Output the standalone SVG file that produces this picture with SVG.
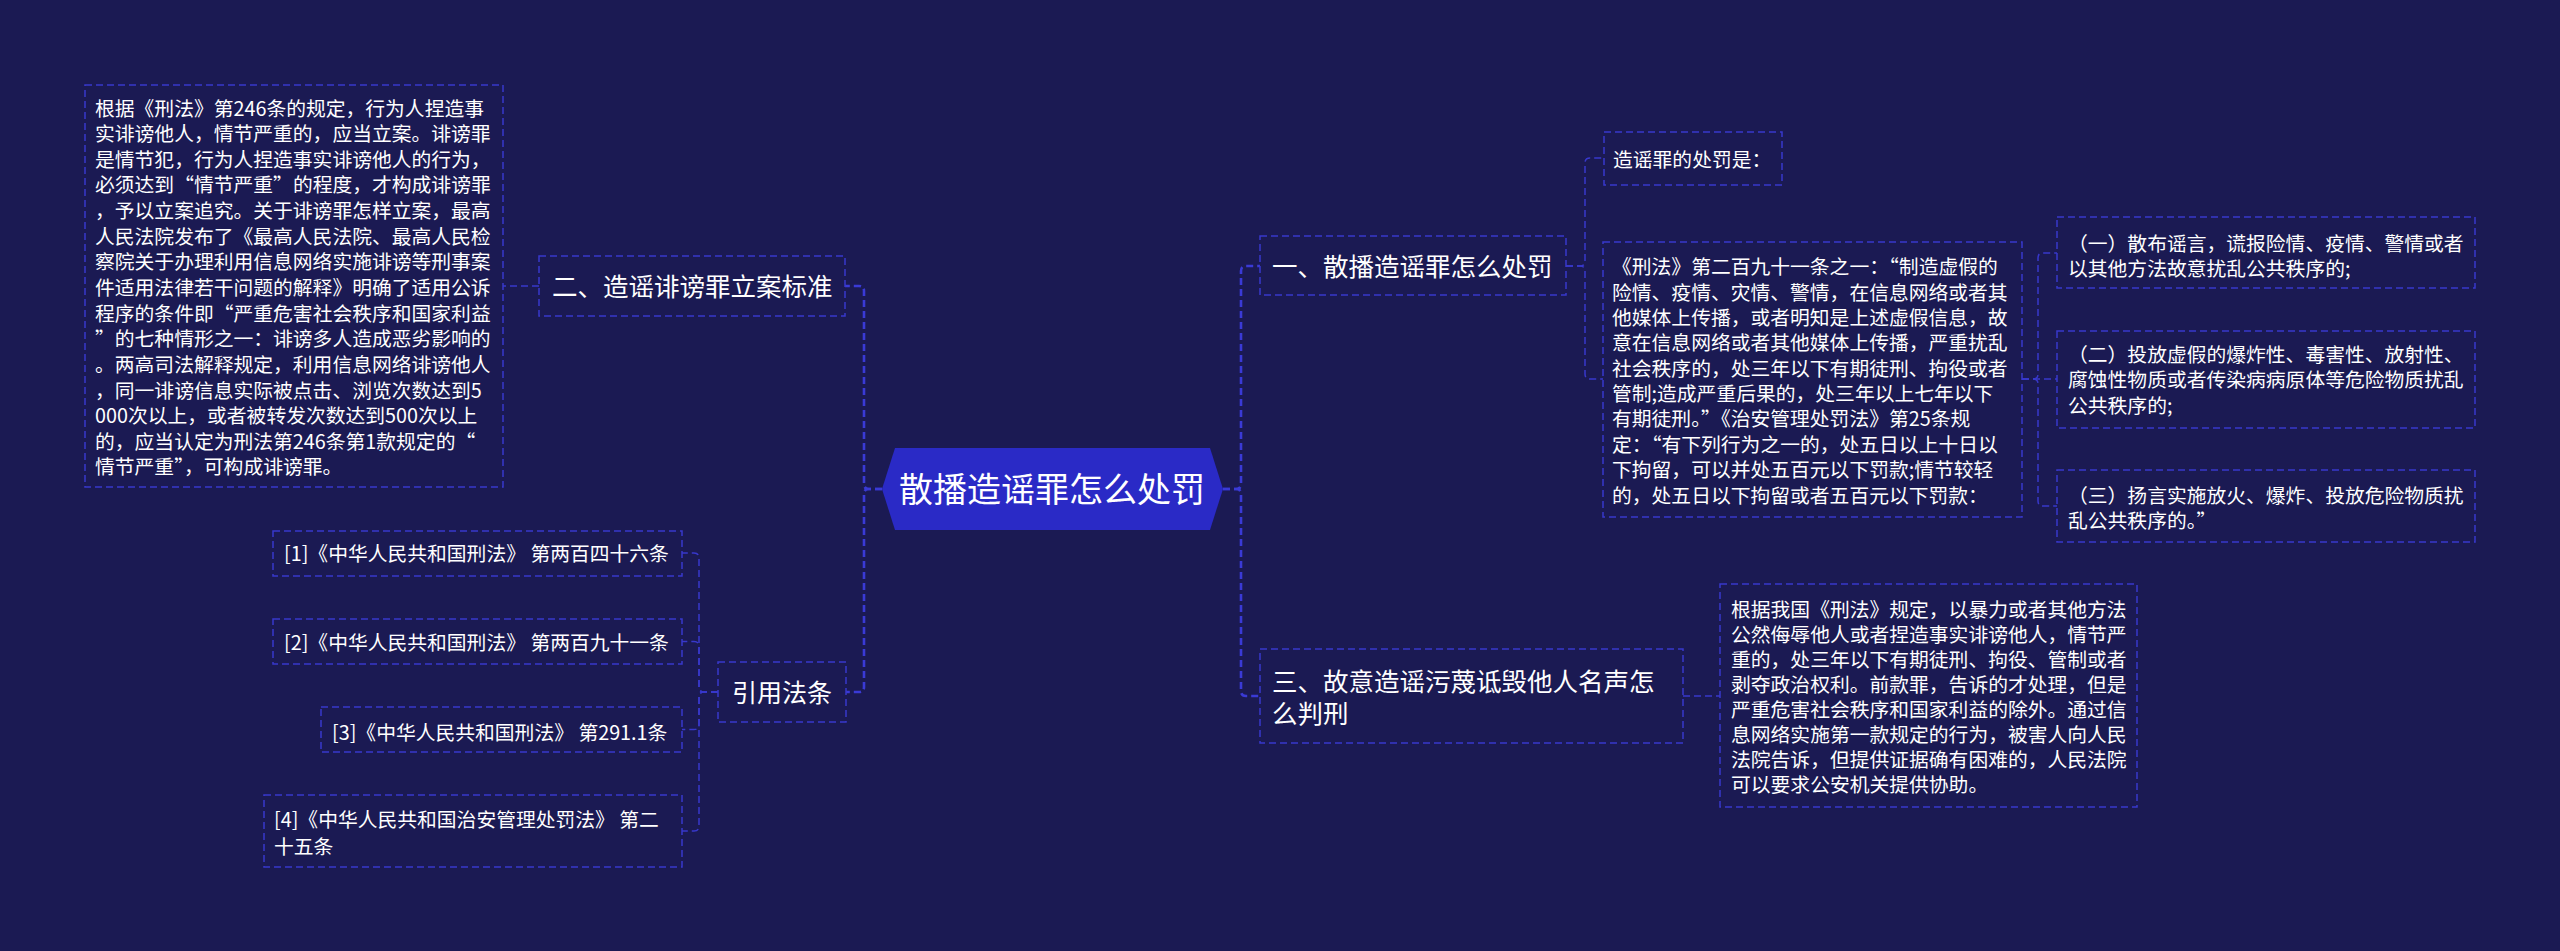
<svg xmlns="http://www.w3.org/2000/svg" width="2560" height="951" viewBox="0 0 2560 951">
<style>
.box{fill:#1b1a53;stroke:#3838cc;stroke-width:1.5;stroke-dasharray:7 4}
.conn{fill:none;stroke:#3838cc;stroke-width:1.5;stroke-dasharray:7 4}
.main{stroke-width:2.6;stroke:#3a3ad6}
.t{font-family:"Noto Sans CJK SC","Noto Sans",sans-serif;fill:#ffffff;font-size:19.8px}
.h{font-family:"Noto Sans CJK SC","Noto Sans",sans-serif;fill:#ffffff;font-size:25.5px}
.q{font-feature-settings:"fwid" 1}
</style>
<rect width="2560" height="951" fill="#1b1a53"/>
<g id="connectors">
<path class="conn main" d="M882 489 H869 Q864 489 864 484 V291 Q864 286 859 286 H845"/>
<path class="conn main" d="M882 489 H869 Q864 489 864 494 V687 Q864 692 859 692 H846"/>
<path class="conn" d="M539 286 H503"/>
<path class="conn" d="M718 692 H704 Q699 692 699 687 V558 Q699 553 694 553 H682"/>
<path class="conn" d="M718 692 H704 Q699 692 699 687 V646.5 Q699 641.5 694 641.5 H682"/>
<path class="conn" d="M718 692 H704 Q699 692 699 697 V724.5 Q699 729.5 694 729.5 H682"/>
<path class="conn" d="M718 692 H704 Q699 692 699 697 V826 Q699 831 694 831 H682"/>
<path class="conn main" d="M1223 489 H1236 Q1241 489 1241 484 V271 Q1241 266 1246 266 H1260"/>
<path class="conn main" d="M1223 489 H1236 Q1241 489 1241 494 V691 Q1241 696 1246 696 H1260"/>
<path class="conn" d="M1566 266 H1580 Q1585 266 1585 261 V163 Q1585 158 1590 158 H1604"/>
<path class="conn" d="M1566 266 H1580 Q1585 266 1585 271 V374 Q1585 379 1590 379 H1603"/>
<path class="conn" d="M2022 379 H2033 Q2038 379 2038 374 V258 Q2038 253 2043 253 H2057"/>
<path class="conn" d="M2022 379 H2057"/>
<path class="conn" d="M2022 379 H2033 Q2038 379 2038 384 V501 Q2038 506 2043 506 H2057"/>
<path class="conn" d="M1683 696 H1720"/>
</g>
<g id="root">
<polygon points="882,489 895,448 1210,448 1223,489 1210,530 895,530" fill="#2a2ac6"/>
<text class="h" x="1052" y="502" text-anchor="middle" style="font-size:34px">散播造谣罪怎么处罚</text>
</g>
<g id="n-left-text">
<rect class="box" x="85" y="85" width="418" height="402"/>
<text class="t" x="95" y="115.5"><tspan x="95">根据《刑法》第246条的规定，行为人捏造事</tspan><tspan x="95" dy="25.64">实诽谤他人，情节严重的，应当立案。诽谤罪</tspan><tspan x="95" dy="25.64">是情节犯，行为人捏造事实诽谤他人的行为，</tspan><tspan x="95" dy="25.64">必须达到<tspan class="q">“</tspan>情节严重<tspan class="q">”</tspan>的程度，才构成诽谤罪</tspan><tspan x="95" dy="25.64">，予以立案追究。关于诽谤罪怎样立案，最高</tspan><tspan x="95" dy="25.64">人民法院发布了《最高人民法院、最高人民检</tspan><tspan x="95" dy="25.64">察院关于办理利用信息网络实施诽谤等刑事案</tspan><tspan x="95" dy="25.64">件适用法律若干问题的解释》明确了适用公诉</tspan><tspan x="95" dy="25.64">程序的条件即<tspan class="q">“</tspan>严重危害社会秩序和国家利益</tspan><tspan x="95" dy="25.64"><tspan class="q">”</tspan>的七种情形之一：诽谤多人造成恶劣影响的</tspan><tspan x="95" dy="25.64">。两高司法解释规定，利用信息网络诽谤他人</tspan><tspan x="95" dy="25.64">，同一诽谤信息实际被点击、浏览次数达到5</tspan><tspan x="95" dy="25.64">000次以上，或者被转发次数达到500次以上</tspan><tspan x="95" dy="25.64">的，应当认定为刑法第246条第1款规定的<tspan class="q">“</tspan></tspan><tspan x="95" dy="25.64">情节严重<tspan class="q">”</tspan>，可构成诽谤罪。</tspan></text>
</g>
<g id="n-er">
<rect class="box" x="539" y="256" width="306" height="60"/>
<text class="h" x="552" y="296">二、造谣诽谤罪立案标准</text>
</g>
<g id="n-ref1">
<rect class="box" x="273" y="531" width="409" height="45"/>
<text class="t" x="284" y="561">[1]《中华人民共和国刑法》 第两百四十六条</text>
</g>
<g id="n-ref2">
<rect class="box" x="273" y="619" width="409" height="45"/>
<text class="t" x="284" y="650">[2]《中华人民共和国刑法》 第两百九十一条</text>
</g>
<g id="n-ref3">
<rect class="box" x="321" y="707" width="361" height="45"/>
<text class="t" x="332" y="739.5">[3]《中华人民共和国刑法》 第291.1条</text>
</g>
<g id="n-ref4">
<rect class="box" x="264" y="795" width="418" height="72"/>
<text class="t" x="274" y="827"><tspan x="274">[4]《中华人民共和国治安管理处罚法》 第二</tspan><tspan x="274" dy="26.5">十五条</tspan></text>
</g>
<g id="n-yinyong">
<rect class="box" x="718" y="662" width="128" height="60"/>
<text class="h" x="732" y="702" style="font-size:25px">引用法条</text>
</g>
<g id="n-yi">
<rect class="box" x="1260" y="236" width="306" height="59"/>
<text class="h" x="1272" y="276">一、散播造谣罪怎么处罚</text>
</g>
<g id="n-chufa">
<rect class="box" x="1604" y="132" width="178" height="53"/>
<text class="t" x="1613" y="167">造谣罪的处罚是：</text>
</g>
<g id="n-xingfa">
<rect class="box" x="1603" y="242" width="419" height="275"/>
<text class="t" x="1612" y="274.2"><tspan x="1612">《刑法》第二百九十一条之一：<tspan class="q">“</tspan>制造虚假的</tspan><tspan x="1612" dy="25.37">险情、疫情、灾情、警情，在信息网络或者其</tspan><tspan x="1612" dy="25.37">他媒体上传播，或者明知是上述虚假信息，故</tspan><tspan x="1612" dy="25.37">意在信息网络或者其他媒体上传播，严重扰乱</tspan><tspan x="1612" dy="25.37">社会秩序的，处三年以下有期徒刑、拘役或者</tspan><tspan x="1612" dy="25.37">管制;造成严重后果的，处三年以上七年以下</tspan><tspan x="1612" dy="25.37">有期徒刑。<tspan class="q">”</tspan>《治安管理处罚法》第25条规</tspan><tspan x="1612" dy="25.37">定：<tspan class="q">“</tspan>有下列行为之一的，处五日以上十日以</tspan><tspan x="1612" dy="25.37">下拘留，可以并处五百元以下罚款;情节较轻</tspan><tspan x="1612" dy="25.37">的，处五日以下拘留或者五百元以下罚款：</tspan></text>
</g>
<g id="n-item1">
<rect class="box" x="2057" y="217" width="418" height="71"/>
<text class="t" x="2068" y="250.5"><tspan x="2068">（一）散布谣言，谎报险情、疫情、警情或者</tspan><tspan x="2068" dy="25">以其他方法故意扰乱公共秩序的;</tspan></text>
</g>
<g id="n-item2">
<rect class="box" x="2057" y="331" width="418" height="97"/>
<text class="t" x="2068" y="361.5"><tspan x="2068">（二）投放虚假的爆炸性、毒害性、放射性、</tspan><tspan x="2068" dy="25.5">腐蚀性物质或者传染病病原体等危险物质扰乱</tspan><tspan x="2068" dy="25.5">公共秩序的;</tspan></text>
</g>
<g id="n-item3">
<rect class="box" x="2057" y="470" width="418" height="72"/>
<text class="t" x="2068" y="502.5"><tspan x="2068">（三）扬言实施放火、爆炸、投放危险物质扰</tspan><tspan x="2068" dy="25">乱公共秩序的。<tspan class="q">”</tspan></tspan></text>
</g>
<g id="n-san">
<rect class="box" x="1260" y="649" width="423" height="94"/>
<text class="h" x="1272" y="690.5"><tspan x="1272">三、故意造谣污蔑诋毁他人名声怎</tspan><tspan x="1272" dy="32">么判刑</tspan></text>
</g>
<g id="n-san-text">
<rect class="box" x="1720" y="584" width="417" height="223"/>
<text class="t" x="1731" y="616.5"><tspan x="1731">根据我国《刑法》规定，以暴力或者其他方法</tspan><tspan x="1731" dy="25.14">公然侮辱他人或者捏造事实诽谤他人，情节严</tspan><tspan x="1731" dy="25.14">重的，处三年以下有期徒刑、拘役、管制或者</tspan><tspan x="1731" dy="25.14">剥夺政治权利。前款罪，告诉的才处理，但是</tspan><tspan x="1731" dy="25.14">严重危害社会秩序和国家利益的除外。通过信</tspan><tspan x="1731" dy="25.14">息网络实施第一款规定的行为，被害人向人民</tspan><tspan x="1731" dy="25.14">法院告诉，但提供证据确有困难的，人民法院</tspan><tspan x="1731" dy="25.14">可以要求公安机关提供协助。</tspan></text>
</g>
</svg>
